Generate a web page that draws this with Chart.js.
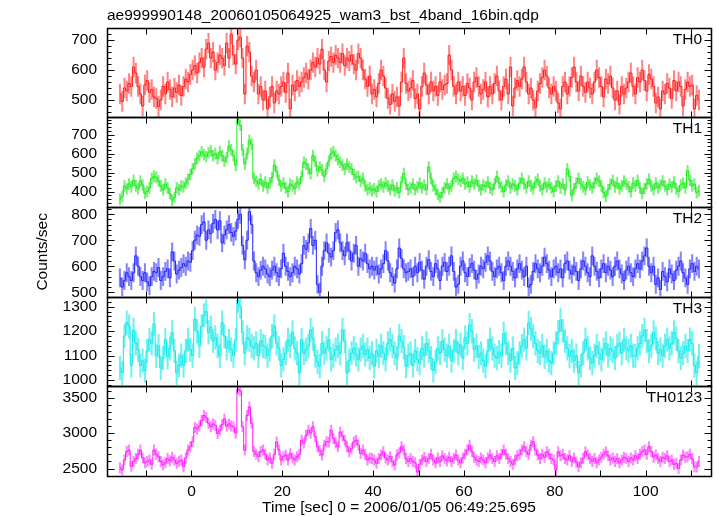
<!DOCTYPE html>
<html>
<head>
<meta charset="utf-8">
<script src="https://cdn.jsdelivr.net/npm/chart.js@4.4.1/dist/chart.umd.min.js"></script>
<style>
  html, body { margin: 0; padding: 0; background: #fff; }
  #lc { display: block; }
</style>
</head>
<body>
<canvas id="lc" width="717" height="516"></canvas>
<script>
// light curve, 0.5 s bins
const binStart = -15.75;
const binSize = 0.5;

const th0 = [
  520, 495, 540, 530, 555, 545, 610, 590, 545, 520, 480, 550, 565, 525, 535, 510,
  505, 478, 500, 545, 520, 560, 535, 510, 540, 525, 550, 515, 545, 570, 560, 585,
  600, 615, 590, 625, 640, 610, 670, 690, 640, 660, 600, 625, 650, 640, 615, 690,
  640, 720, 650, 620, 700, 710, 640, 520, 680, 660, 580, 560, 600, 520, 545, 500,
  530, 470, 510, 545, 490, 530, 520, 545, 560, 525, 590, 470, 550, 530, 565, 545,
  560, 575, 590, 570, 600, 625, 610, 640, 620, 670, 600, 560, 630, 645, 625, 650,
  640, 625, 655, 615, 640, 630, 650, 620, 600, 655, 640, 600, 570, 545, 580, 520,
  535, 510, 555, 600, 580, 540, 505, 485, 520, 495, 510, 480, 560, 640, 555, 530,
  540, 565, 505, 520, 470, 545, 590, 550, 520, 560, 530, 545, 515, 560, 535, 550,
  555, 650, 600, 545, 520, 560, 530, 545, 515, 555, 540, 500, 560, 575, 545, 520,
  535, 560, 510, 545, 520, 555, 580, 530, 500, 545, 570, 520, 610, 480, 540, 565,
  545, 570, 610, 560, 520, 540, 500, 475, 530, 555, 575, 600, 580, 540, 520, 545,
  530, 490, 470, 545, 560, 520, 545, 575, 610, 560, 530, 580, 545, 525, 560, 540,
  520, 560, 600, 575, 545, 510, 570, 555, 580, 540, 500, 530, 485, 545, 520, 540,
  560, 590, 545, 520, 575, 560, 600, 565, 530, 585, 570, 545, 490, 510, 470, 530,
  520, 555, 540, 505, 565, 530, 560, 545, 480, 535, 560, 545, 550, 470, 515, 500
];

const th1 = [
  360, 375, 430, 415, 440, 425, 460, 430, 415, 455, 435, 390, 400, 420, 470, 480,
  475, 455, 430, 410, 440, 420, 390, 355, 370, 420, 410, 430, 425, 445, 465, 490,
  520, 545, 575, 590, 610, 595, 585, 605, 615, 590, 600, 575, 610, 590, 560, 580,
  640, 620, 590, 540, 780, 750, 620, 545, 600, 670, 650, 470, 455, 440, 465, 430,
  450, 420, 445, 475, 540, 505, 460, 430, 445, 420, 400, 440, 430, 415, 450, 440,
  480, 555, 545, 520, 495, 590, 560, 510, 530, 515, 480, 520, 560, 600, 610, 590,
  570, 555, 540, 520, 545, 530, 520, 490, 475, 480, 455, 470, 430, 410, 420, 405,
  415, 400, 430, 440, 425, 445, 430, 410, 435, 405, 420, 395, 450, 495, 440, 410,
  420, 440, 410, 425, 445, 420, 435, 410, 530, 470, 430, 410, 385, 370, 395, 420,
  440, 415, 430, 470, 480, 465, 455, 470, 440, 450, 425, 455, 440, 460, 430, 410,
  435, 425, 450, 420, 410, 440, 480, 445, 425, 400, 435, 455, 420, 440, 430, 410,
  445, 470, 440, 420, 455, 430, 415, 450, 465, 430, 410, 445, 425, 440, 420, 400,
  430, 455, 420, 440, 410, 520, 480, 380, 415, 445, 470, 440, 425, 410, 450, 435,
  420, 445, 470, 455, 430, 395, 375, 410, 440, 460, 425, 445, 415, 430, 455, 440,
  425, 400, 445, 430, 460, 420, 390, 415, 440, 465, 430, 410, 445, 420, 435, 455,
  430, 410, 440, 425, 450, 415, 400, 435, 445, 420, 510, 460, 430, 440, 395, 405
];

const th2 = [
  555, 520, 545, 575, 560, 545, 575, 640, 600, 560, 545, 575, 540, 525, 560, 580,
  575, 595, 545, 560, 580, 590, 555, 655, 620, 570, 585, 595, 610, 600, 620, 615,
  660, 700, 720, 715, 760, 770, 700, 740, 725, 765, 780, 740, 775, 690, 720, 740,
  760, 730, 715, 735, 780, 800, 680, 625, 700, 810, 760, 620, 575, 560, 585, 600,
  590, 570, 560, 585, 600, 575, 560, 590, 650, 600, 580, 560, 575, 600, 590, 570,
  610, 680, 665, 690, 745, 680, 700, 530, 500, 600, 660, 690, 650, 635, 660, 730,
  740, 690, 660, 640, 690, 660, 620, 650, 680, 600, 630, 620, 650, 610, 590, 600,
  585, 600, 570, 590, 610, 660, 620, 575, 560, 535, 590, 670, 630, 590, 575, 580,
  590, 560, 600, 575, 615, 585, 550, 600, 625, 580, 560, 610, 590, 545, 600, 615,
  580, 600, 640, 580, 520, 530, 600, 620, 575, 560, 595, 610, 585, 550, 570, 600,
  590, 615, 640, 620, 580, 560, 590, 600, 575, 545, 600, 620, 600, 580, 555, 590,
  610, 585, 560, 600, 520, 530, 580, 610, 590, 575, 600, 635, 610, 585, 560, 590,
  600, 575, 590, 555, 610, 620, 585, 570, 600, 580, 545, 590, 620, 600, 575, 560,
  640, 600, 580, 555, 590, 610, 575, 600, 585, 560, 600, 620, 590, 570, 545, 585,
  600, 575, 560, 590, 610, 590, 620, 640, 670, 600, 575, 600, 530, 555, 510, 580,
  560, 540, 590, 570, 545, 585, 600, 620, 575, 555, 530, 590, 610, 580, 600, 590
];

const th3 = [
  1050, 1030, 1180, 1235, 1220, 1060, 1205, 1150, 1125, 1060, 1080, 1040, 1120, 1165, 1150, 1230,
  1100, 1140, 1050, 1090, 1165, 1095, 1130, 1195, 1120, 1030, 1060, 1100, 1060, 1120, 1165, 1125,
  1100, 1250, 1200, 1140, 1220, 1265, 1280, 1195, 1215, 1160, 1175, 1140, 1100, 1235, 1180, 1130,
  1160, 1125, 1100, 1165, 1325, 1300, 1195, 1110, 1175, 1165, 1140, 1130, 1150, 1100, 1160, 1140,
  1135, 1100, 1125, 1180, 1220, 1150, 1130, 1060, 1085, 1110, 1165, 1140, 1195, 1130, 1110, 1030,
  1165, 1110, 1125, 1140, 1205, 1170, 1100, 1075, 1057, 1150, 1110, 1130, 1165, 1085, 1100, 1125,
  1140, 1110, 1205, 1160, 1030, 1080, 1110, 1130, 1105, 1085, 1125, 1140, 1105, 1125, 1090, 1110,
  1057, 1120, 1098, 1140, 1110, 1085, 1150, 1166, 1140, 1110, 1090, 1180, 1160, 1135, 1057, 1100,
  1110, 1060, 1120, 1085, 1070, 1130, 1100, 1150, 1120, 1090, 1040, 1075, 1130, 1110, 1160, 1125,
  1100, 1140, 1080, 1120, 1160, 1110, 1145, 1090, 1175, 1150, 1225, 1200, 1125, 1140, 1095, 1110,
  1080, 1057, 1120, 1166, 1130, 1100, 1090, 1115, 1098, 1190, 1150, 1110, 1080, 1130, 1050, 1070,
  1110, 1140, 1166, 1130, 1234, 1210, 1180, 1150, 1120, 1110, 1140, 1095, 1120, 1080, 1070, 1110,
  1150, 1195, 1245, 1200, 1160, 1130, 1098, 1120, 1080, 1100, 1030, 1060, 1110, 1166, 1130, 1090,
  1070, 1100, 1140, 1110, 1085, 1125, 1150, 1100, 1130, 1120, 1090, 1140, 1150, 1110, 1165, 1130,
  1120, 1140, 1100, 1098, 1130, 1150, 1180, 1205, 1160, 1120, 1140, 1195, 1170, 1110, 1125, 1100,
  1140, 1166, 1130, 1150, 1195, 1170, 1120, 1090, 1110, 1140, 1120, 1166, 1150, 1060, 1030, 1098
];

const th0123 = [
  2510, 2480, 2620, 2740, 2760, 2530, 2600, 2640, 2700, 2760, 2650, 2580, 2600, 2620, 2560, 2760,
  2700, 2667, 2600, 2550, 2580, 2640, 2610, 2660, 2620, 2573, 2600, 2620, 2526, 2650, 2760, 2808,
  2880, 3080, 3060, 3100, 3180, 3250, 3220, 3140, 3090, 3130, 3110, 2995, 3040, 3120, 3200, 3100,
  3130, 3100, 3090, 3000, 3620, 3600, 3090, 2760, 3250, 3370, 3140, 2740, 2700, 2667, 2740, 2760,
  2700, 2620, 2650, 2573, 2700, 2875, 2760, 2620, 2667, 2690, 2620, 2710, 2650, 2620, 2667, 2700,
  2900, 2860, 2970, 3040, 3000, 3090, 2950, 2808, 2750, 2690, 2830, 2880, 2875, 3040, 2925, 2860,
  2808, 3015, 2960, 2900, 2808, 2737, 2780, 2875, 2900, 2830, 2715, 2760, 2700, 2620, 2650, 2640,
  2620, 2573, 2640, 2690, 2737, 2650, 2620, 2667, 2600, 2550, 2690, 2720, 2808, 2760, 2640, 2600,
  2640, 2600, 2580, 2450, 2560, 2620, 2660, 2600, 2640, 2700, 2620, 2580, 2650, 2600, 2680, 2640,
  2610, 2660, 2600, 2640, 2690, 2620, 2580, 2650, 2700, 2760, 2830, 2740, 2660, 2620, 2600, 2650,
  2620, 2580, 2650, 2690, 2640, 2600, 2680, 2640, 2700, 2760, 2700, 2640, 2600, 2560, 2620, 2680,
  2700, 2760, 2808, 2740, 2700, 2830, 2880, 2760, 2690, 2640, 2700, 2660, 2737, 2700, 2640, 2620,
  2480, 2737, 2680, 2700, 2640, 2620, 2680, 2600, 2650, 2590, 2526, 2580, 2640, 2737, 2690, 2640,
  2600, 2640, 2580, 2620, 2660, 2700, 2737, 2680, 2620, 2650, 2600, 2640, 2580, 2620, 2660, 2640,
  2600, 2650, 2620, 2680, 2640, 2700, 2737, 2760, 2700, 2808, 2740, 2660, 2690, 2640, 2600, 2660,
  2640, 2680, 2600, 2620, 2560, 2573, 2500, 2620, 2690, 2660, 2667, 2700, 2640, 2526, 2520, 2600
];

const bandNames = ["TH0", "TH1", "TH2", "TH3", "TH0123"];
const bandRates = [th0, th1, th2, th3, th0123];
const bandErr = [33, 29, 35, 48, 73];          // typical 1-sigma, counts/sec
const yLow = [442, 319, 483, 975, 2394];
const yHigh = [742, 792, 828, 1341, 3662];
const yTickValues = [
    [500, 600, 700],
    [400, 500, 600, 700],
    [500, 600, 700, 800],
    [1000, 1100, 1200, 1300],
    [2500, 3000, 3500],
];
const yMajor = [100, 100, 100, 100, 500];
const yMinor = [20, 20, 20, 20, 100];
const xLow = -18.6;
const xHigh = 114.4;
const xTickValues = [0, 20, 40, 60, 80, 100];

const lineColors = ["#ff1a1a", "#1aee1a", "#2020ff", "#14eaea", "#ff1aff"];
const barColors = ["rgba(255,50,50,0.6)", "rgba(30,230,30,0.6)", "rgba(50,50,255,0.6)",
                   "rgba(30,235,235,0.65)", "rgba(255,50,255,0.6)"];

const FONT = "'Liberation Sans', Arial, sans-serif";
Chart.defaults.font.family = FONT;
Chart.defaults.font.size = 15.5;
Chart.defaults.color = "#000";

const datasets = [];
const scales = {
    x: {
        type: "linear",
        min: xLow,
        max: xHigh,
        offset: false,
        grid: { display: false, drawTicks: false },
        border: { display: false },
        ticks: { autoSkip: false, maxRotation: 0, padding: 6, callback: (v) => String(v) },
        afterBuildTicks: (s) => { s.ticks = xTickValues.map((v) => ({ value: v })); },
        afterFit: (s) => { s.height = 40; },
    },
};

bandRates.forEach((rates, k) => {
    const id = "y" + k;
    const pts = rates.map((v, i) => ({ x: binStart + i * binSize, y: v }));
    const bars = rates.map((v, i) => ({ x: binStart + i * binSize, y: [v - bandErr[k], v + bandErr[k]] }));

    datasets.push({
        type: "line",
        yAxisID: id,
        data: pts,
        stepped: "middle",
        borderColor: lineColors[k],
        borderWidth: 1,
        pointRadius: 0,
        fill: false,
    });
    datasets.push({
        type: "bar",
        yAxisID: id,
        data: bars,
        backgroundColor: barColors[k],
        borderWidth: 0,
        grouped: false,
        barThickness: 1.4,
        maxBarThickness: 1.4,
    });

    scales[id] = {
        type: "linear",
        position: "left",
        stack: "bands",
        stackWeight: 1,
        weight: 10 - k,               // first band on top
        min: yLow[k],
        max: yHigh[k],
        beginAtZero: false,
        grid: { display: false, drawTicks: false },
        border: { display: false },
        ticks: { autoSkip: false, padding: 10, callback: (v) => String(v) },
        afterBuildTicks: (s) => { s.ticks = yTickValues[k].map((v) => ({ value: v })); },
        title: k === 2
            ? { display: true, text: "Counts/sec", padding: { top: 33, bottom: 0 } }
            : { display: false },
        afterFit: (s) => { s.width = 107; },
    };
});

// clip every band to its own panel
const panelClip = {
    id: "panelClip",
    beforeDatasetDraw(chart, args) {
        const s = chart.scales[args.meta.yAxisID];
        const a = chart.chartArea;
        chart.ctx.save();
        chart.ctx.beginPath();
        chart.ctx.rect(a.left, s.top, a.right - a.left, s.bottom - s.top);
        chart.ctx.clip();
    },
    afterDatasetDraw(chart) {
        chart.ctx.restore();
    },
};

// qdp style frames, inward ticks on all sides, band names
const qdpFrame = {
    id: "qdpFrame",
    afterDraw(chart) {
        const ctx = chart.ctx;
        const a = chart.chartArea;
        const xs = chart.scales.x;
        const L = Math.round(a.left) + 0.5;
        const R = Math.round(a.right) + 0.5;
        const seg = (x1, y1, x2, y2) => {
            ctx.beginPath();
            ctx.moveTo(x1, y1);
            ctx.lineTo(x2, y2);
            ctx.stroke();
        };
        ctx.save();
        ctx.strokeStyle = "#000";

        bandNames.forEach((name, k) => {
            const s = chart.scales["y" + k];
            const T = Math.round(s.top) + 0.5;
            const B = Math.round(s.bottom) + 0.5;
            ctx.lineWidth = 1.5;
            ctx.strokeRect(L, T, R - L, B - T);
            ctx.lineWidth = 1;

            const first = Math.ceil(s.min / yMinor[k]) * yMinor[k];
            for (let v = first; v <= s.max; v += yMinor[k]) {
                const py = Math.round(s.getPixelForValue(v)) + 0.5;
                const len = v % yMajor[k] === 0 ? 7 : 4;
                seg(L, py, L + len, py);
                seg(R, py, R - len, py);
            }
            for (let t = -10; t <= 110; t += 10) {
                const px = Math.round(xs.getPixelForValue(t)) + 0.5;
                seg(px, T, px, T + 6);
                seg(px, B, px, B - 6);
            }

            ctx.fillStyle = "#000";
            ctx.font = "15.5px " + FONT;
            ctx.textAlign = "right";
            ctx.textBaseline = "alphabetic";
            ctx.fillText(name, a.right - 9, s.top + 16);
        });

        ctx.font = "15.5px " + FONT;
        ctx.textAlign = "center";
        ctx.textBaseline = "middle";
        ctx.fillText("Time [sec] 0 = 2006/01/05 06:49:25.695", 399, 508);
        ctx.restore();
    },
};

new Chart(document.getElementById("lc"), {
    type: "line",
    data: { datasets },
    options: {
        responsive: false,
        animation: false,
        devicePixelRatio: 1,
        layout: { padding: { left: 0, right: 6, top: 0, bottom: 0 } },
        plugins: {
            legend: { display: false },
            tooltip: { enabled: false },
            title: {
                display: true,
                text: "ae999990148_20060105064925_wam3_bst_4band_16bin.qdp",
                align: "start",
                fullSize: false,
                color: "#000",
                font: { size: 15.5, weight: "normal" },
                padding: { top: 6, bottom: 3 },
            },
        },
        scales,
    },
    plugins: [panelClip, qdpFrame],
});
</script>
</body>
</html>
